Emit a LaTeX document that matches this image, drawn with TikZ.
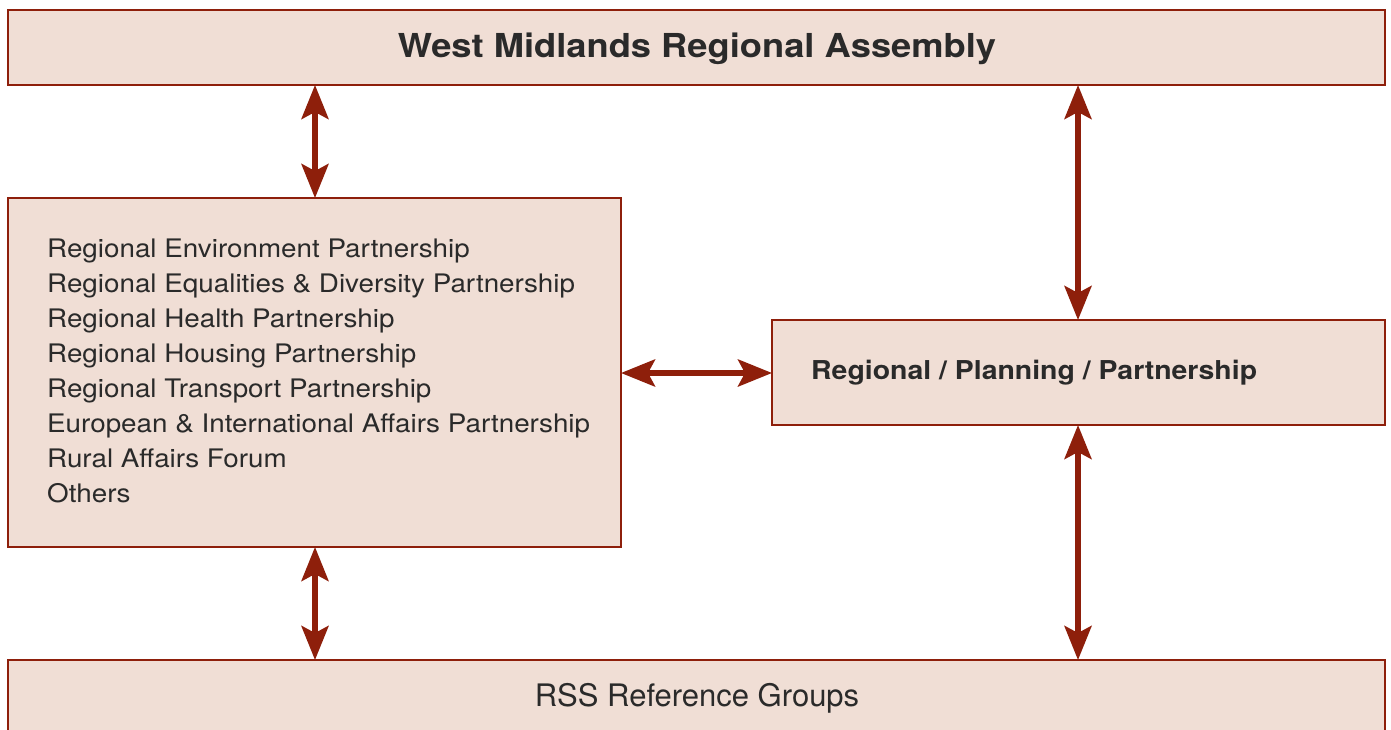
\documentclass[tikz,border=0pt]{standalone}
\usepackage{fontspec}
\setmainfont{TeX Gyre Heros}
\usetikzlibrary{arrows.meta}
\definecolor{boxfill}{HTML}{F0DED5}
\definecolor{boxdraw}{HTML}{8E1F0B}
\definecolor{txt}{HTML}{2A2A2A}
\begin{document}
\begin{tikzpicture}[x=1pt,y=-1pt,
  box/.style={draw=boxdraw,fill=boxfill,line width=2.2pt},
  conn/.style={draw=boxdraw,line width=5.5pt,{Stealth[length=34pt,width=27pt,inset=7pt]}-{Stealth[length=34pt,width=27pt,inset=7pt]}},
  lbl/.style={text=txt,inner sep=0pt,anchor=base west}]
\useasboundingbox (0,0) rectangle (1391,730);
\draw[box] (8,10) rectangle (1385,85);
\coordinate (topL) at (315,85);
\coordinate (topR) at (1078,85);
\draw[box] (8,198) rectangle (621,547);
\coordinate (leftT) at (315,198);
\coordinate (leftB) at (315,547);
\coordinate (leftR) at (621,373);
\draw[box] (772,320) rectangle (1385,425);
\coordinate (rightT) at (1078,320);
\coordinate (rightB) at (1078,425);
\coordinate (rightL) at (772,373);
\draw[box] (8,660) rectangle (1385,740);
\coordinate (botL) at (315,660);
\coordinate (botR) at (1078,660);
\node[text=txt,inner sep=0pt,anchor=base,font=\bfseries\fontsize{33}{38}\selectfont] (title) at (697,58) {\scalebox{1.1}[1]{West Midlands Regional Assembly}};
\foreach \t [count=\i from 0] in {Regional Environment Partnership,Regional Equalities \& Diversity Partnership,Regional Health Partnership,Regional Housing Partnership,Regional Transport Partnership,European \& International Affairs Partnership,Rural Affairs Forum,Others}
  \node[lbl,font=\fontsize{25.5}{35}\selectfont] (l\i) at (47,257+35*\i) {\scalebox{1.09}[1]{\t}};
\node[lbl,font=\bfseries\fontsize{26}{30}\selectfont] (rpp) at (811,379) {\scalebox{1.093}[1]{Regional / Planning / Partnership}};
\node[text=txt,inner sep=0pt,anchor=base,font=\fontsize{31}{36}\selectfont] (rss) at (697,706) {RSS Reference Groups};
\draw[conn] (topL) -- (leftT);
\draw[conn] (leftB) -- (botL);
\draw[conn] (topR) -- (rightT);
\draw[conn] (rightB) -- (botR);
\draw[conn] (leftR) -- (rightL);
\end{tikzpicture}
\end{document}
